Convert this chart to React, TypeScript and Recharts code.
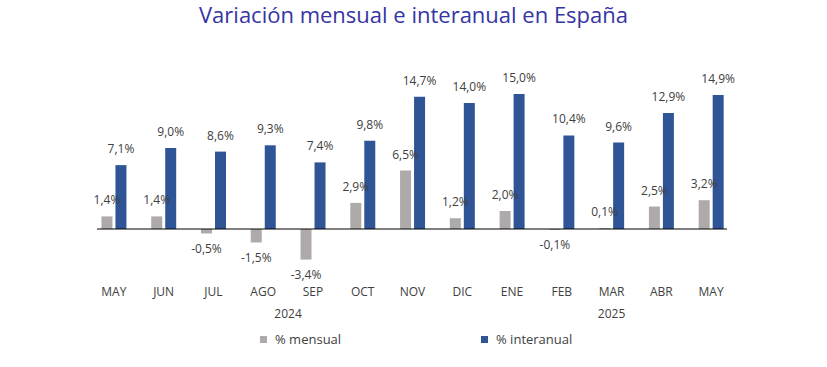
import { BarChart, Bar, XAxis, YAxis, LabelList, ReferenceLine } from 'recharts';

const months = ['MAY', 'JUN', 'JUL', 'AGO', 'SEP', 'OCT', 'NOV', 'DIC', 'ENE', 'FEB', 'MAR', 'ABR', 'MAY'];
const mensual = [1.4, 1.4, -0.5, -1.5, -3.4, 2.9, 6.5, 1.2, 2.0, -0.1, 0.1, 2.5, 3.2];
const interanual = [7.1, 9.0, 8.6, 9.3, 7.4, 9.8, 14.7, 14.0, 15.0, 10.4, 9.6, 12.9, 14.9];
const years = [
  { label: '2024', from: 0, to: 7 },
  { label: '2025', from: 8, to: 12 },
];

const data = months.map((m, i) => ({ month: m, mensual: mensual[i], interanual: interanual[i] }));

const W = 827;
const H = 367;
const AXIS_H = 30;
const margin = { top: 85, right: 91, bottom: 102 - AXIS_H, left: 89 };
const band = (W - margin.left - margin.right) / months.length;

const FONT = '"Open Sans", "Noto Sans", sans-serif';
const GREY = '#aeaaaa';
const BLUE = '#2f5597';
const TEXT = '#404040';

const series = [
  { key: 'mensual', name: '% mensual', color: GREY },
  { key: 'interanual', name: '% interanual', color: BLUE },
];

const fmt = (v: number) => v.toFixed(1).replace('.', ',') + '%';

const renderLabel = (props: any) => {
  const vb = props.viewBox || {};
  const x = props.x ?? vb.x;
  const y = props.y ?? vb.y;
  const width = props.width ?? vb.width;
  const height = props.height ?? vb.height;
  const value = Number(props.value);
  const top = Math.min(y, y + height);
  const bottom = Math.max(y, y + height);
  const cx = x + width / 2;
  const ty = value >= 0 ? top - 12 : bottom + 19;
  return (
    <text x={cx} y={ty} textAnchor="middle" fontSize={12} fill={TEXT} fontFamily={FONT}>
      {fmt(value)}
    </text>
  );
};

const MonthTick = (props: any) => {
  const { x, y, payload, index } = props;
  const year = years.find((yr) => Math.floor((yr.from + yr.to) / 2) === index);
  return (
    <g>
      <text x={x} y={y + 23} textAnchor="middle" fontSize={12} fill={TEXT} fontFamily={FONT}>
        {payload.value}
      </text>
      {year && (
        <text
          x={x + (((year.from + year.to) / 2) % 1 ? band / 2 : 0)}
          y={y + 45}
          textAnchor="middle"
          fontSize={12}
          fill={TEXT}
          fontFamily={FONT}
        >
          {year.label}
        </text>
      )}
    </g>
  );
};

const axisLine = (props: any) => (
  <line x1={props.x1 + 8} x2={props.x2 - 9} y1={props.y1} y2={props.y2} stroke="#000" strokeWidth={1} />
);

export default function App() {
  return (
    <div style={{ position: 'absolute', left: 0, top: 0, width: W, height: H, background: '#fff' }}>
      <div
        style={{
          position: 'absolute',
          left: 0,
          top: 0,
          width: W,
          textAlign: 'center',
          fontFamily: FONT,
          fontSize: 22,
          lineHeight: '28px',
          color: '#3535a3',
        }}
      >
        Variación mensual e interanual en España
      </div>
      <BarChart width={W} height={H} data={data} margin={margin} barCategoryGap="25%" barGap={3}>
        <XAxis
          dataKey="month"
          height={AXIS_H}
          axisLine={false}
          tickLine={false}
          tick={<MonthTick />}
          interval={0}
        />
        <YAxis hide domain={[-4, 16]} />
        <ReferenceLine y={0} shape={axisLine} />
        {series.map((s) => (
          <Bar key={s.key} dataKey={s.key} name={s.name} fill={s.color} isAnimationActive={false}>
            <LabelList dataKey={s.key} content={renderLabel} />
          </Bar>
        ))}
      </BarChart>
      <div
        style={{
          position: 'absolute',
          left: 260,
          top: 330,
          display: 'flex',
          fontFamily: FONT,
          fontSize: 13,
          color: TEXT,
          lineHeight: '18px',
        }}
      >
        {series.map((s) => (
          <div key={s.key} style={{ width: 221, display: 'flex', alignItems: 'center' }}>
            <span style={{ display: 'inline-block', width: 7, height: 7, background: s.color, marginRight: 8 }} />
            {s.name}
          </div>
        ))}
      </div>
    </div>
  );
}
